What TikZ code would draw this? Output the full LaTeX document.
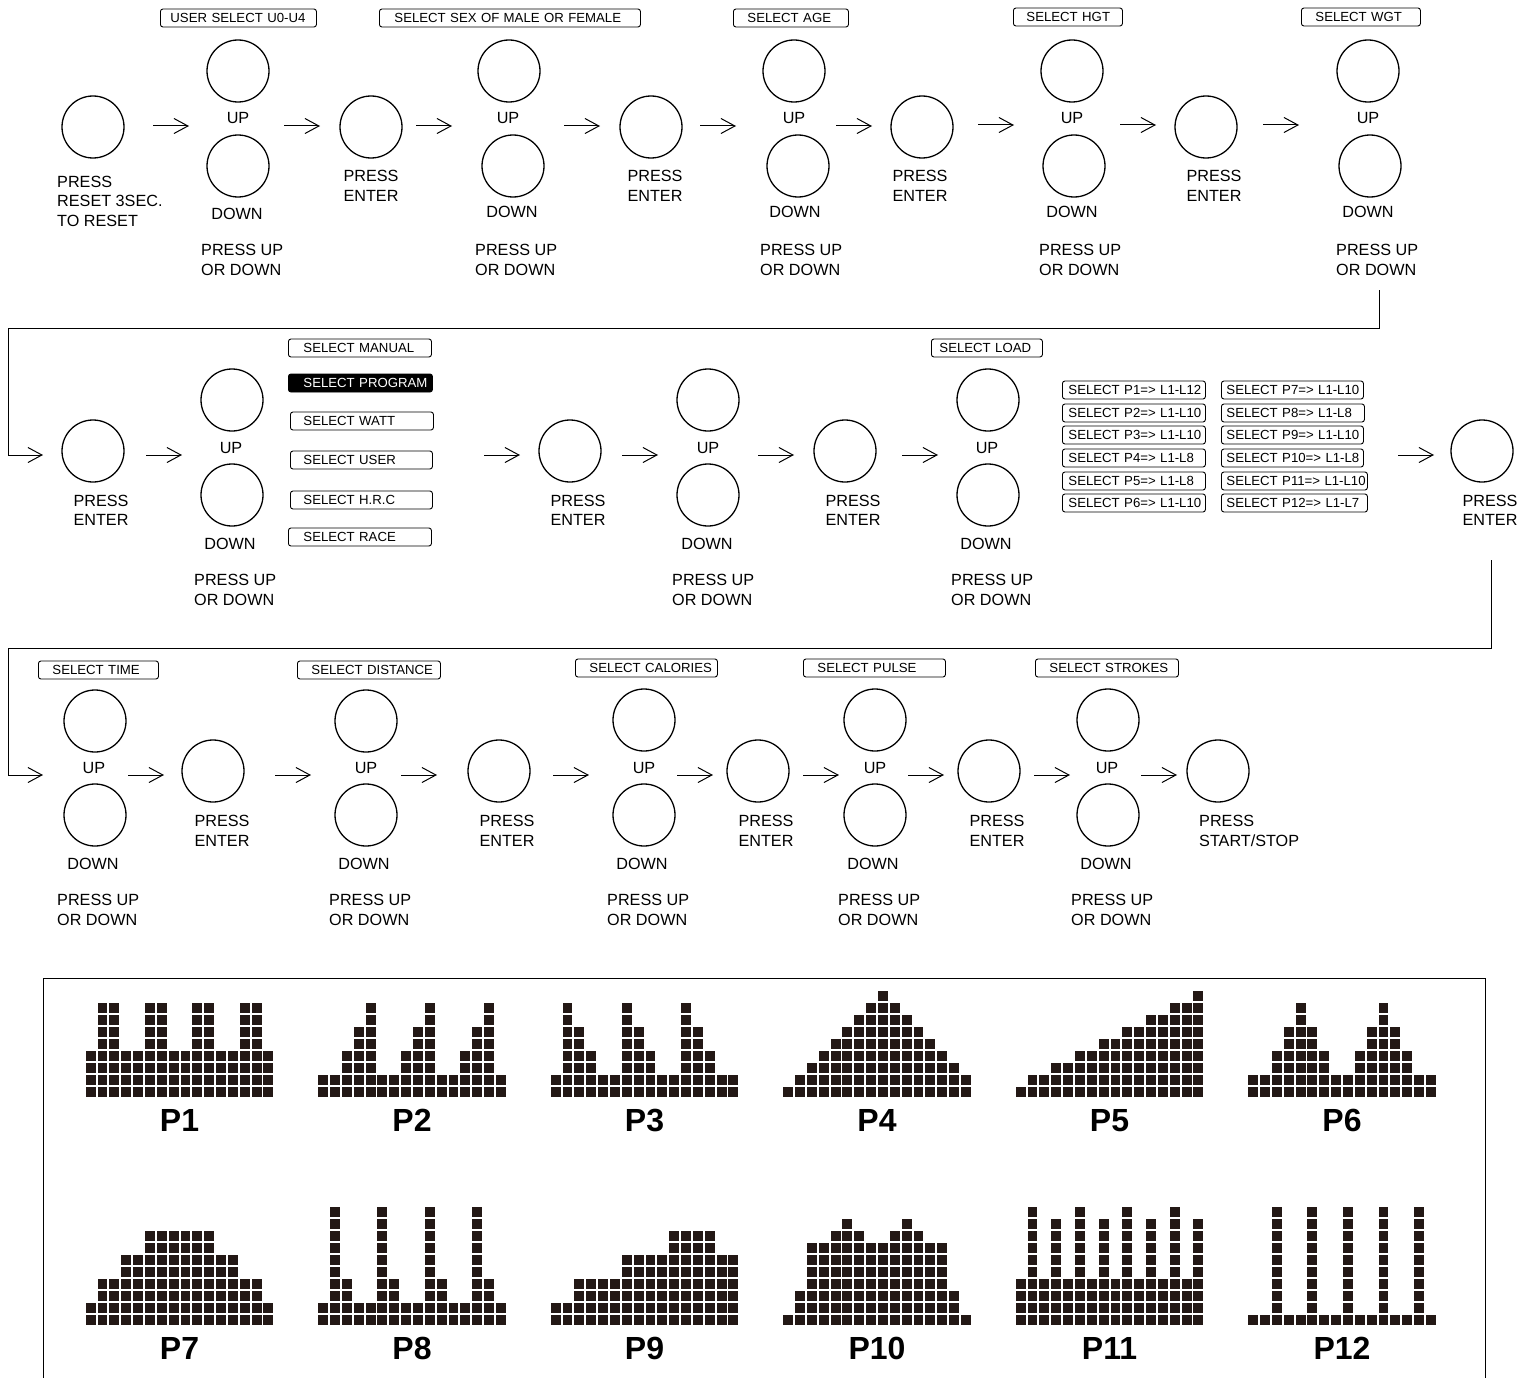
\documentclass[tikz,border=0pt]{standalone}
\usepackage{fontspec}
\setmainfont{Liberation Sans}
\usetikzlibrary{arrows.meta}
\definecolor{barc}{HTML}{231815}

% name, x0, y of top of bottom row, label, heights
\newcommand\progbars[5]{%
  \foreach \hh [count=\ii from 0] in {#5} {
    \foreach \jj in {1,...,\hh} {
      \fill[barc] ({#2+\ii*11.85},{#3-(\jj-1)*11.95}) rectangle ++(9.9,9.9);
    }
  }
  \node[plabel] (#1) at ({#2+93.8},{#3+33.5}) {#4};
}
% name, x, y, width, pad, extra, text
\newcommand\selbox[7]{%
  \node[lbl,anchor=west,inner xsep=0pt,text width=#4pt,align=left,#6] (#1) at (#2,#3) {\hspace*{#5pt}#7};
}

\begin{document}
\begin{tikzpicture}[x=1pt,y=-1pt,
  btn/.style={circle,draw,line width=1.3pt,minimum size=62pt,inner sep=0pt},
  txt/.style={inner sep=0pt,font=\fontsize{16.2}{19.5}\selectfont},
  lbl/.style={draw,rounded corners=2.5pt,line width=0.9pt,inner ysep=0pt,minimum height=18pt,font=\fontsize{13.2}{15}\selectfont},
  flow/.style={line width=1pt,-{Straight Barb[length=14pt,width=15pt]}},
  plabel/.style={inner sep=0pt,font=\bfseries\fontsize{32}{36}\selectfont},
  frame/.style={line width=1pt}]
\useasboundingbox (0,0) rectangle (1526,1378);

% ---------- reset / start circles ----------
\node[btn] (reset) at (93,127) {};
\node[txt,anchor=west,align=left] (resett) at (57,201) {PRESS\\RESET 3SEC.\\TO RESET};
\node[btn] (start) at (1218,771) {};
\node[txt,anchor=west,align=left] (startt) at (1199,831) {PRESS\\START/STOP};

% ---------- up/down pairs ----------
\foreach \id/\ux/\uy/\dx/\dy/\utx/\uty/\dtx/\dty/\px/\py in {
  1/238/71/238/166/238/118/237/214/201/260,
  2/509/71/513/166/508/118/512/212/475/260,
  3/794/71/798/166/794/118/795/212/760/260,
  4/1072/71/1074/166/1072/118/1072/212/1039/260,
  5/1368/71/1370/166/1368/118/1368/212/1336/260,
  6/232/400/232/495/231/448/230/544/194/590,
  7/708/400/708/495/708/448/707/544/672/590,
  8/988/400/988/495/987/448/986/544/951/590,
  9/95/721/95/815/94/768/93/864/57/910,
  10/366/721/366/815/366/768/364/864/329/910,
  11/644/720/644/815/644/768/642/864/607/910,
  12/875/720/875/815/875/768/873/864/838/910,
  13/1108/720/1108/815/1107/768/1106/864/1071/910} {
  \node[btn] (up\id) at (\ux,\uy) {};
  \node[btn] (dn\id) at (\dx,\dy) {};
  \node[txt] (upt\id) at (\utx,\uty) {UP};
  \node[txt] (dnt\id) at (\dtx,\dty) {DOWN};
  \node[txt,anchor=west,align=left] (pud\id) at (\px,\py) {PRESS UP\\OR DOWN};
}

% ---------- enter circles ----------
\foreach \id/\cx/\cy/\tx/\ty in {
  1/371/127/371/186, 2/651/127/655/186, 3/922/127/920/186, 4/1206/127/1214/186,
  5/93/451/101/510.5, 6/570/451/578/510.5, 7/845/451/853/510.5, 8/1482/451/1490/510.5,
  9/213/771/222/831, 10/499/771/507/831, 11/758/771/766/831, 12/989/771/997/831} {
  \node[btn] (en\id) at (\cx,\cy) {};
  \node[txt,align=center] (ent\id) at (\tx,\ty) {PRESS\\ENTER};
}

% ---------- arrows ----------
\foreach \xs/\yy [count=\k] in {
  153/126, 284/126, 416/126, 564/126, 700/126, 836/126, 978/125, 1120/125, 1263/125,
  146/455, 484/455, 622/455, 758/455, 902/455, 1398/455,
  128/775, 275/775, 401/775, 553/775, 677/775, 803/775, 908/775, 1034/775, 1141/775} {
  \coordinate (as\k) at (\xs,\yy);
  \coordinate (ae\k) at (\xs+36,\yy);
  \draw[flow] (as\k) -- (ae\k);
}

% ---------- row connectors ----------
\coordinate (c1a) at (1379,290);
\coordinate (c1b) at (1379,328);
\coordinate (c1c) at (8,328);
\coordinate (c1d) at (8,455);
\coordinate (c1e) at (43,455);
\draw[flow] (c1a) -- (c1b) -- (c1c) -- (c1d) -- (c1e);
\coordinate (c2a) at (1491,560);
\coordinate (c2b) at (1491,648);
\coordinate (c2c) at (8,648);
\coordinate (c2d) at (8,775);
\coordinate (c2e) at (43,775);
\draw[flow] (c2a) -- (c2b) -- (c2c) -- (c2d) -- (c2e);

% ---------- label boxes ----------
\selbox{b1}{160}{18}{156}{10}{}{USER SELECT U0-U4}
\selbox{b2}{379}{18}{261}{15}{}{SELECT SEX OF MALE OR FEMALE}
\selbox{b3}{733}{18}{115}{14}{}{SELECT AGE}
\selbox{b4}{1013}{17}{109}{13}{}{SELECT HGT}
\selbox{b5}{1301}{17}{119}{14}{}{SELECT WGT}
\selbox{m1}{288}{348}{143}{15}{}{SELECT MANUAL}
\selbox{m2}{288}{383}{144}{15}{fill=black,text=white}{SELECT PROGRAM}
\selbox{m3}{290}{421}{143}{13}{}{SELECT WATT}
\selbox{m4}{290}{460}{142}{13}{}{SELECT USER}
\selbox{m5}{290}{500}{142}{13}{}{SELECT H.R.C}
\selbox{m6}{288}{537}{143}{15}{}{SELECT RACE}
\selbox{b6}{931}{348}{111}{8}{}{SELECT LOAD}
\selbox{b7}{38}{670}{120}{14}{}{SELECT TIME}
\selbox{b8}{297}{670}{143}{14}{}{SELECT DISTANCE}
\selbox{b9}{575}{668}{142}{14}{}{SELECT CALORIES}
\selbox{b10}{803}{668}{142}{14}{}{SELECT PULSE}
\selbox{b11}{1035}{668}{143}{14}{}{SELECT STROKES}

\selbox{pa1}{1062}{390}{143}{6}{}{SELECT P1=> L1-L12}
\selbox{pa2}{1062}{413}{143}{6}{}{SELECT P2=> L1-L10}
\selbox{pa3}{1062}{435}{143}{6}{}{SELECT P3=> L1-L10}
\selbox{pa4}{1062}{458}{143}{6}{}{SELECT P4=> L1-L8}
\selbox{pa5}{1062}{481}{143}{6}{}{SELECT P5=> L1-L8}
\selbox{pa6}{1062}{503}{143}{6}{}{SELECT P6=> L1-L10}
\selbox{pb1}{1221}{390}{142}{5}{}{SELECT P7=> L1-L10}
\selbox{pb2}{1221}{413}{143}{5}{}{SELECT P8=> L1-L8}
\selbox{pb3}{1221}{435}{142}{5}{}{SELECT P9=> L1-L10}
\selbox{pb4}{1221}{458}{142}{5}{}{SELECT P10=> L1-L8}
\selbox{pb5}{1221}{481}{146}{5}{}{SELECT P11=> L1-L10}
\selbox{pb6}{1221}{503}{146}{5}{}{SELECT P12=> L1-L7}

% ---------- program frame ----------
\coordinate (f1) at (43,1378);
\coordinate (f2) at (43,978);
\coordinate (f3) at (1485,978);
\coordinate (f4) at (1485,1378);
\draw[frame] (f1) -- (f2) -- (f3) -- (f4);

% ---------- program profiles ----------
\progbars{p1}{85.7}{1087}{P1}{4,8,8,4,4,8,8,4,4,8,8,4,4,8,8,4}
\progbars{p2}{318.2}{1087}{P2}{2,2,4,6,8,2,2,4,6,8,2,2,4,6,8,2}
\progbars{p3}{550.7}{1087}{P3}{2,8,6,4,2,2,8,6,4,2,2,8,6,4,2,2}
\progbars{p4}{783.2}{1087}{P4}{1,2,3,4,5,6,7,8,9,8,7,6,5,4,3,2}
\progbars{p5}{1015.7}{1087}{P5}{1,2,2,3,3,4,4,5,5,6,6,7,7,8,8,9}
\progbars{p6}{1248.2}{1087}{P6}{2,2,4,6,8,6,4,2,2,4,6,8,6,4,2,2}
\progbars{p7}{85.7}{1315}{P7}{2,4,4,6,6,8,8,8,8,8,8,6,6,4,4,2}
\progbars{p8}{318.2}{1315}{P8}{2,10,4,2,2,10,4,2,2,10,4,2,2,10,4,2}
\progbars{p9}{550.7}{1315}{P9}{2,2,4,4,4,4,6,6,6,6,8,8,8,8,6,6}
\progbars{p10}{783.2}{1315}{P10}{1,3,7,7,8,9,8,7,7,8,9,8,7,7,3,1}
\progbars{p11}{1015.7}{1315}{P11}{4,10,4,9,4,10,4,9,4,10,4,9,4,10,4,9}
\progbars{p12}{1248.2}{1315}{P12}{1,1,10,1,1,10,1,1,10,1,1,10,1,1,10,1}
\end{tikzpicture}
\end{document}
